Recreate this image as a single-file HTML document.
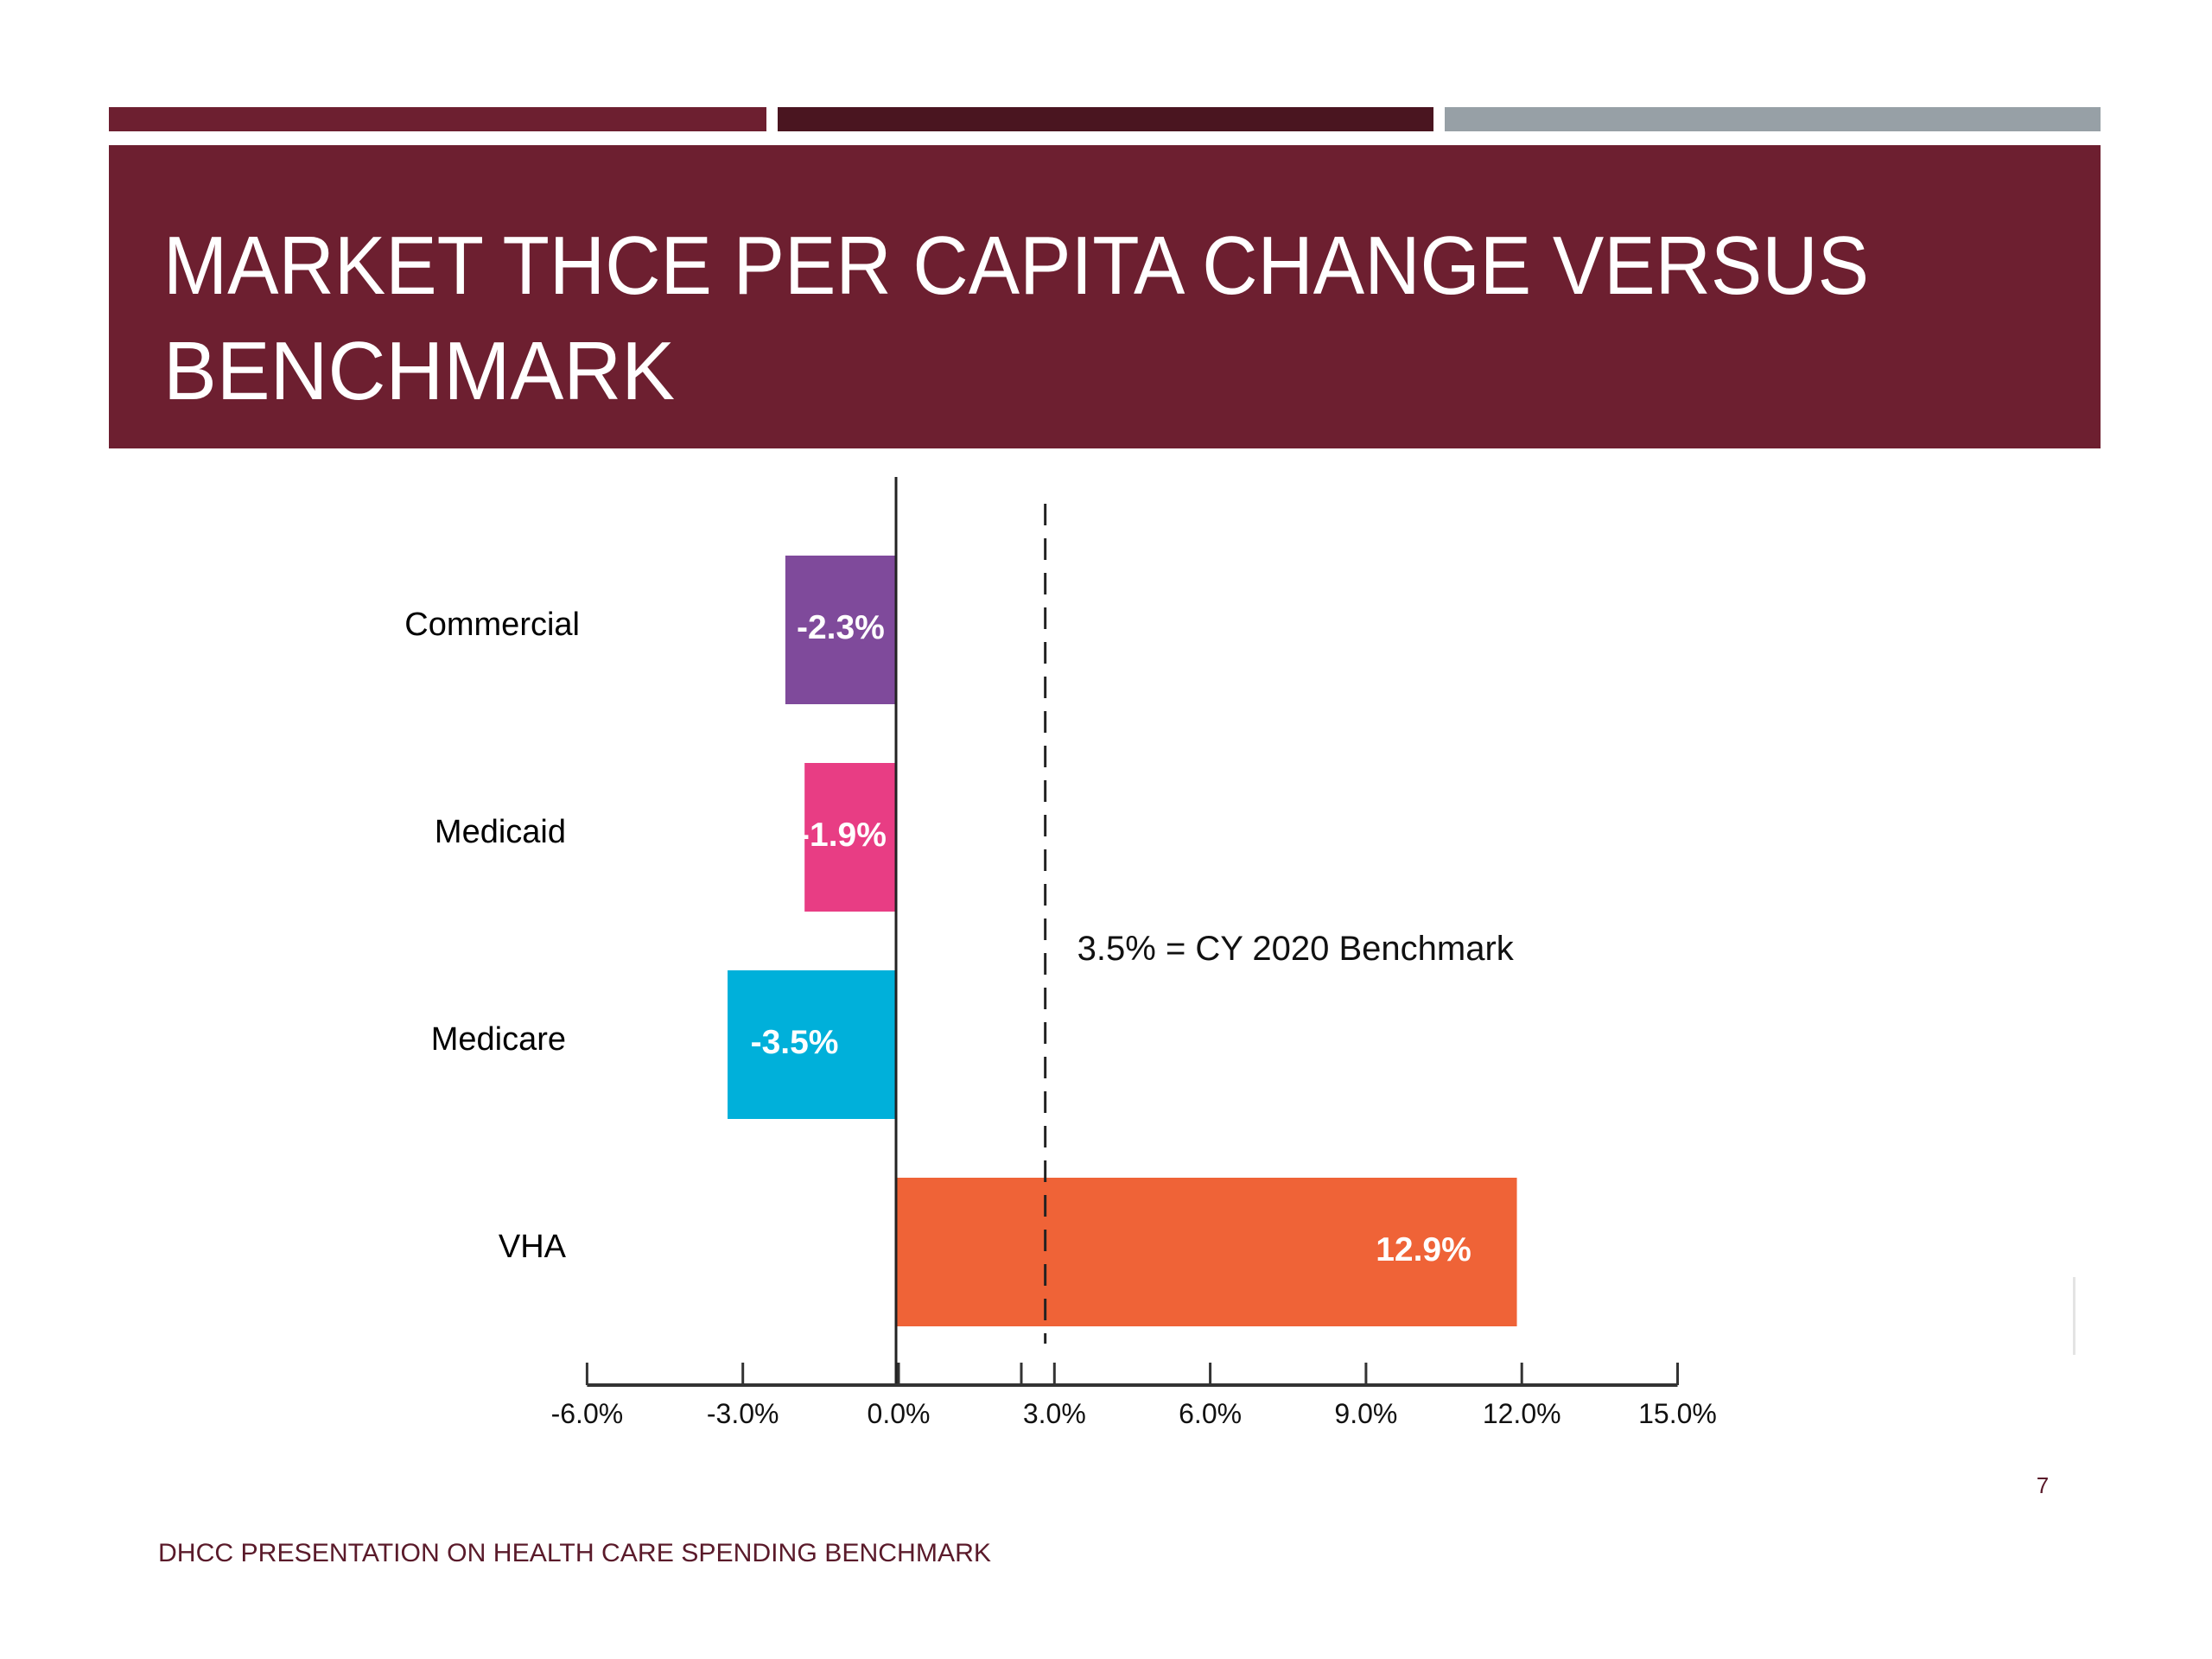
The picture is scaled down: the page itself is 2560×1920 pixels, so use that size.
<!DOCTYPE html>
<html><head><meta charset="utf-8"><style>
html,body{margin:0;padding:0;background:#fff;}
svg{display:block;font-family:"Liberation Sans",sans-serif;}
</style></head><body>
<svg id="slide" width="2560" height="1920" viewBox="0 0 2560 1920" xmlns="http://www.w3.org/2000/svg">
<rect x="126" y="124" width="761" height="28" fill="#6d1f30"/>
<rect x="900" y="124" width="759" height="28" fill="#4a1520"/>
<rect x="1672" y="124" width="759" height="28" fill="#97a0a6"/>
<rect x="126" y="168" width="2305" height="351" fill="#6d1f30"/>
<text x="189" y="340" font-size="96" fill="#fff" textLength="1974" lengthAdjust="spacingAndGlyphs">MARKET THCE PER CAPITA CHANGE VERSUS</text>
<text x="189" y="462" font-size="96" fill="#fff" textLength="592" lengthAdjust="spacingAndGlyphs">BENCHMARK</text>
<g id="chart"></g>
<text x="183" y="1807" font-size="30" fill="#5a1a2a" textLength="964" lengthAdjust="spacingAndGlyphs">DHCC PRESENTATION ON HEALTH CARE SPENDING BENCHMARK</text>
<text x="2364" y="1728" font-size="26" fill="#5a1a2a" text-anchor="middle">7</text>
<rect x="2399" y="1478" width="3" height="90" fill="#e4e4e4"/>
</svg>
<script>
const categories = ["Commercial", "Medicaid", "Medicare", "VHA"];
const values = [-2.3, -1.9, -3.5, 12.9];
const valueLabels = ["-2.3%", "-1.9%", "-3.5%", "12.9%"];
const barColors = ["#7f4a9b", "#e83d84", "#00b0da", "#ef6337"];
const tickValues = [-6, -3, 0, 3, 6, 9, 12, 15];
const tickLabels = ["-6.0%", "-3.0%", "0.0%", "3.0%", "6.0%", "9.0%", "12.0%", "15.0%"];
const benchmarkValue = [3.1];
const benchmarkLabel = ["3.5% = CY 2020 Benchmark"];

const NS = "http://www.w3.org/2000/svg";
const g = document.getElementById("chart");
function mk(tag, attrs, txt){const e=document.createElementNS(NS,tag);for(const k in attrs)e.setAttribute(k,attrs[k]);if(txt!=null)e.textContent=txt;g.appendChild(e);return e;}
const xBar = v => 1037 + v * 55.7;
const xTick = v => 1040 + v * 60.1;
const yCat = i => 643 + i * 240;
const barH = 172;

categories.forEach((c,i)=>{
  const v = values[i];
  const x0 = Math.min(xBar(0), xBar(v)), w = Math.abs(xBar(v)-xBar(0));
  const r = mk("rect",{x:x0,y:yCat(i),width:w,height:barH,fill:barColors[i]});
  
  
  const cx = v < 0 ? Math.min(x0 + w/2, xBar(0) - 62) - (w > 150 ? 20 : 0) : xBar(v) - 108;
  const t = mk("text",{x:cx,y:yCat(i)+barH/2+10,"font-size":39,"font-weight":"bold",fill:"#fff","text-anchor":"middle"},valueLabels[i]);
  
  
  const l = mk("text",{x:i===0?671:655,y:yCat(i)+barH/2+6,"font-size":38,fill:"#000","text-anchor":"end"},c);
  
  
});

const za = mk("line",{x1:xBar(0),y1:552,x2:xBar(0),y2:1603,stroke:"#222","stroke-width":3});



const xa = mk("line",{x1:xTick(-6),y1:1603,x2:xTick(15),y2:1603,stroke:"#333","stroke-width":4});


tickValues.forEach((v,i)=>{
  const tk = mk("line",{x1:xTick(v),y1:1577,x2:xTick(v),y2:1603,stroke:"#333","stroke-width":3});
  
  
  const tl = mk("text",{x:xTick(v),y:1647,"font-size":32,fill:"#111","text-anchor":"middle"},tickLabels[i]);
  
  
});
const mt = mk("line",{x1:1182,y1:1577,x2:1182,y2:1603,stroke:"#333","stroke-width":3});



const bx = xBar(benchmarkValue[0]);
const bl = mk("line",{x1:bx,y1:583,x2:bx,y2:1555,stroke:"#222","stroke-width":3,"stroke-dasharray":"25 15"});


const bt = mk("text",{x:bx+37,y:1111,"font-size":40,fill:"#111"},benchmarkLabel[0]);


</script>
</body></html>
